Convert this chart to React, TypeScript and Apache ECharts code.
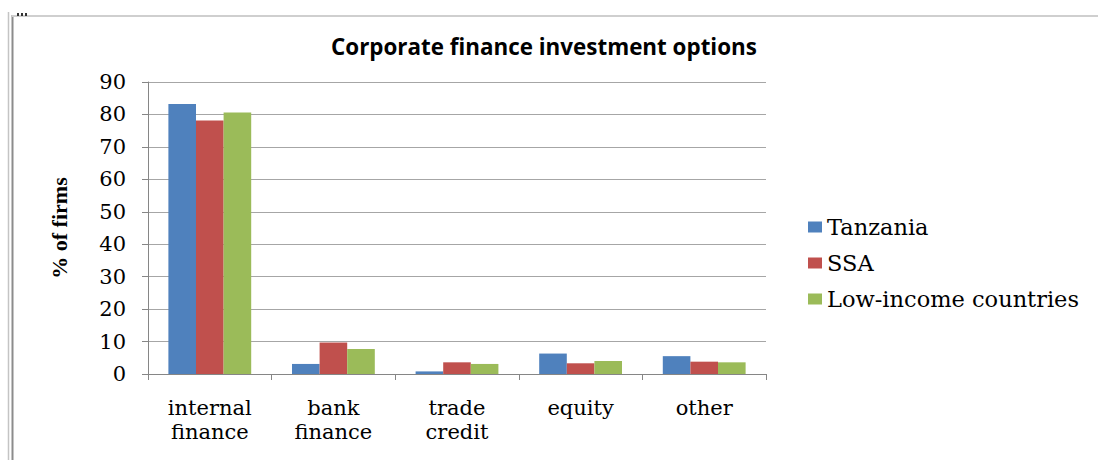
import React, { useEffect, useRef } from "react";
import * as echarts from "echarts";

const categories = ["internal\nfinance", "bank\nfinance", "trade\ncredit", "equity", "other"];
const tanzania = [83.2, 3.1, 0.8, 6.3, 5.5];
const ssa = [78.1, 9.7, 3.6, 3.3, 3.8];
const lowIncome = [80.6, 7.7, 3.1, 4.0, 3.6];
const seriesNames = ["Tanzania", "SSA", "Low-income countries"];
const colors = ["#4F81BD", "#C0504D", "#9BBB59"];

const serif = "DejaVu Serif";

export default function App() {
  const ref = useRef<HTMLDivElement>(null);
  useEffect(() => {
    if (!ref.current) return;
    const chart = echarts.init(ref.current, null, { renderer: "svg" });
    const data = [tanzania, ssa, lowIncome];
    chart.setOption({
      animation: false,
      backgroundColor: "#ffffff",
      title: {
        text: "Corporate finance investment options",
        left: 331,
        top: 35,
        padding: 0,
        textStyle: {
          fontFamily: "Open Sans",
          fontWeight: "bold",
          fontSize: 22.4,
          color: "#000000",
        },
      },
      legend: {
        orient: "vertical",
        left: 803,
        top: 210,
        itemWidth: 14,
        itemHeight: 11,
        itemGap: 12,
        icon: "rect",
        data: seriesNames,
        textStyle: {
          fontFamily: serif,
          fontSize: 22.5,
          lineHeight: 24,
          color: "#000000",
          padding: 0,
        },
      },
      grid: { left: 148, right: 332, top: 82, bottom: 86 },
      xAxis: {
        type: "category",
        data: categories,
        axisLine: { lineStyle: { color: "#868686", width: 1 } },
        axisTick: { show: true, length: 6, lineStyle: { color: "#868686" } },
        axisLabel: {
          fontFamily: serif,
          fontSize: 21,
          lineHeight: 24,
          color: "#000000",
          margin: 22,
          interval: 0,
        },
      },
      yAxis: {
        type: "value",
        min: 0,
        max: 90,
        interval: 10,
        name: "% of firms",
        nameLocation: "middle",
        nameGap: 78,
        nameRotate: 90,
        nameTextStyle: {
          fontFamily: "Liberation Serif",
          fontWeight: "bold",
          fontSize: 22,
          color: "#000000",
        },
        axisLine: { show: true, lineStyle: { color: "#868686", width: 1 } },
        axisTick: { show: true, length: 6, lineStyle: { color: "#868686" } },
        splitLine: { show: true, lineStyle: { color: "#a6a6a6", width: 1 } },
        axisLabel: {
          fontFamily: serif,
          fontSize: 21,
          color: "#000000",
          margin: 22,
        },
      },
      series: seriesNames.map((name, i) => ({
        name,
        type: "bar",
        data: data[i],
        barGap: "0%",
        barCategoryGap: "33%",
        itemStyle: { color: colors[i] },
      })),
      graphic: [
        { type: "line", shape: { x1: 8.5, y1: 12, x2: 8.5, y2: 460 }, style: { stroke: "#c4c4c4", lineWidth: 1.5 } },
        { type: "line", shape: { x1: 12.5, y1: 15, x2: 12.5, y2: 460 }, style: { stroke: "#8c8c8c", lineWidth: 2 } },
        { type: "line", shape: { x1: 12, y1: 16, x2: 1098, y2: 16 }, style: { stroke: "#cfcfcf", lineWidth: 2 } },
        { type: "rect", shape: { x: 17, y: 13, width: 2, height: 3 }, style: { fill: "#333333" } },
        { type: "rect", shape: { x: 21, y: 13, width: 2, height: 3 }, style: { fill: "#333333" } },
        { type: "rect", shape: { x: 25, y: 13, width: 2, height: 3 }, style: { fill: "#333333" } },
      ],
    });
    return () => chart.dispose();
  }, []);
  return (
    <div
      ref={ref}
      style={{ position: "absolute", left: 0, top: 0, width: 1098, height: 460 }}
    />
  );
}
